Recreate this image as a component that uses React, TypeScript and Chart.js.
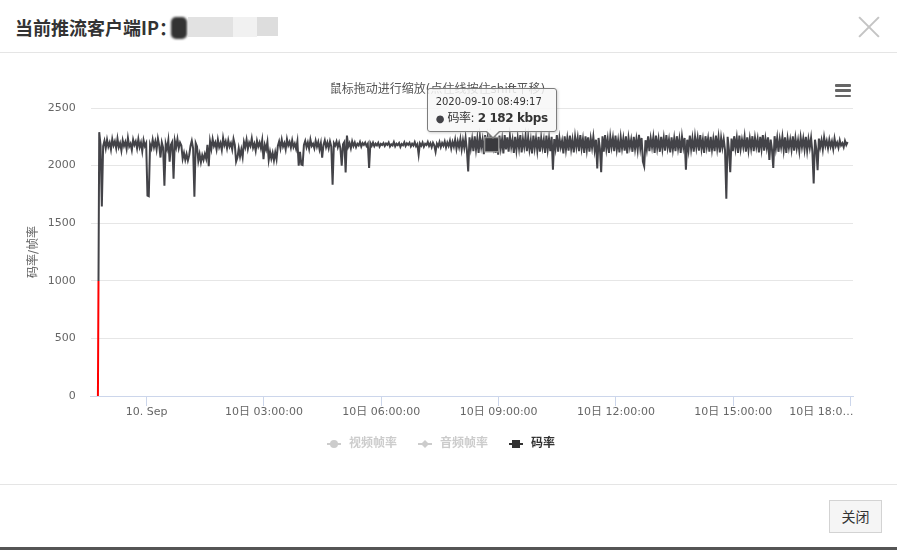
import React, { useEffect, useRef } from "react";
import { Chart, registerables } from "chart.js";

Chart.register(...registerables);

// ---------------- data ----------------
const SERIES_NAMES = ["视频帧率", "音频帧率", "码率"];
const VIDEO_FPS: number[] = []; // hidden series (no visible data)
const AUDIO_FPS: number[] = []; // hidden series (no visible data)

// first sample: 2020-09-09 22:45:17, in seconds relative to 2020-09-10 00:00:00
const START_SECONDS = -4483;
const SAMPLE_INTERVAL_S = 120;

// bitrate (kbps), one sample every 2 minutes
const BITRATE = [
  0, 2290, 2180, 1645, 2170, 2215, 2150, 2225, 2165, 2200, 2140, 2230, 2175, 2210, 2150, 2235, 2160, 2195, 2130, 2220,
  2170, 2205, 2145, 2240, 2165, 2190, 2135, 2225, 2180, 2210, 2150, 2230, 2160, 2200, 2125, 2220, 2170, 2195, 1740, 1735,
  2185, 2150, 2225, 2160, 2210, 2140, 2235, 2175, 2070, 2200, 2155, 1826, 2190, 2145, 2220, 2035, 2180, 2205, 1886, 2215,
  2160, 2230, 2150, 2200, 2175, 2060, 2110, 2050, 2100, 2045, 2090, 2170, 2215, 2150, 1730, 2195, 2165, 2040, 2100, 2030,
  2090, 2050, 2100, 2060, 2180, 1995, 2210, 2145, 2230, 2170, 2200, 2140, 2225, 2160, 2195, 2135, 2240, 2175, 2210, 2150,
  2220, 2165, 2195, 2140, 2230, 2180, 2035, 2070, 2150, 2080, 2140, 2075, 2205, 2160, 2225, 2145, 2200, 2170, 2235, 2155,
  2190, 2130, 2215, 2165, 2200, 2150, 2220, 2055, 2180, 2140, 2205, 2050, 2120, 2060, 2110, 2045, 2115, 2055, 2170, 2210,
  2150, 2225, 2165, 2195, 2140, 2230, 2175, 2205, 2155, 2220, 2160, 2190, 2145, 2210, 2000, 2120, 2010, 2005, 2180, 2215,
  2160, 2200, 2145, 2225, 2170, 2190, 2150, 2215, 2165, 2205, 2140, 2195, 2070, 2180, 2220, 2160, 2200, 2150, 2210, 2165,
  1835, 2195, 2175, 2210, 2160, 2200, 2150, 2000, 2185, 2205, 1940, 2260, 2165, 2195, 2150, 2210, 2170, 2200, 2160, 2190,
  2175, 2205, 2165, 2195, 2180, 2200, 2170, 2190, 1980, 2195, 2172, 2200, 2168, 2190, 2175, 2198, 2165, 2188, 2178, 2195,
  2170, 2192, 2180, 2200, 2165, 2185, 2175, 2205, 2168, 2190, 2178, 2196, 2162, 2188, 2176, 2202, 2170, 2193, 2180, 2198,
  2166, 2190, 2174, 2204, 2168, 2186, 2095, 2192, 2172, 2200, 2164, 2189, 2178, 2206, 2170, 2194, 2160, 2198, 2175, 2120,
  2190, 2168, 2205, 2160, 2196, 2172, 2210, 2158, 2200, 2170, 2215, 2150, 2205, 2165, 2225, 2145, 2210, 2160, 2230, 2140,
  2220, 2155, 2240, 2135, 1950, 2245, 2150, 2230, 2125, 2255, 2140, 2235, 2110, 2250, 2160, 2225, 2100, 2265, 2135, 2240,
  2120, 2255, 2182, 2145, 2270, 2110, 2240, 2095, 2260, 2150, 2230, 2105, 2265, 2140, 2245, 2120, 2255, 2160, 2225, 2110,
  2250, 2135, 2240, 2150, 2265, 2115, 2230, 2160, 2255, 2125, 2245, 2140, 2220, 2105, 2260, 2150, 2235, 2130, 2250, 2120,
  2240, 2155, 2225, 2110, 2260, 2140, 2235, 2125, 2250, 1965, 2230, 2150, 2265, 2120, 2240, 2160, 2215, 2105, 2255, 2140,
  2235, 2130, 2260, 2145, 2225, 2115, 2250, 2160, 2240, 2125, 2265, 2150, 2230, 2110, 2255, 2140, 2245, 2120, 2235, 2155,
  2250, 2135, 2225, 1975, 2240, 2150, 1942, 2255, 2120, 2265, 2145, 2230, 2110, 2250, 2160, 2240, 2125, 2260, 2140, 2220,
  2115, 2245, 2150, 2235, 2130, 2255, 2105, 2240, 2160, 2225, 2120, 2250, 2145, 2230, 2135, 2266, 2150, 2240, 2035, 1995,
  2220, 2140, 2255, 2125, 2235, 2160, 2245, 2110, 2260, 2150, 2230, 2120, 2250, 2145, 2240, 2130, 2265, 2155, 2225, 2115,
  2245, 2140, 2235, 2125, 2255, 2150, 2230, 2110, 2250, 2160, 2240, 1965, 2225, 2135, 2260, 2145, 2235, 2120, 2250, 2155,
  2240, 2130, 2265, 2145, 2225, 2110, 2255, 2160, 2235, 2120, 2250, 2140, 2230, 2125, 2260, 2150, 2245, 2115, 2240, 2155,
  2230, 2135, 1713, 2250, 2140, 1942, 2235, 2125, 2255, 2150, 2240, 2110, 2260, 2145, 2225, 2160, 2250, 2120, 2245, 2135,
  2235, 2150, 2255, 2125, 2240, 2160, 2230, 2115, 2250, 2145, 2265, 2130, 2235, 2155, 2245, 2050, 2225, 2140, 1980, 2255,
  2150, 2240, 2120, 2230, 2160, 2250, 2135, 2245, 2110, 2235, 2155, 2225, 2140, 2255, 2130, 2240, 2150, 2220, 2125, 2245,
  2160, 2235, 2140, 2250, 2130, 2230, 2155, 2240, 2120, 1844, 2225, 2145, 1960, 2235, 2160, 2220, 2140, 2245, 2170, 2215,
  2150, 2225, 2165, 2210, 2145, 2235, 2170, 2200, 2155, 2220, 2175, 2195, 2160, 2215, 2180, 2205,
];

const ZONE_THRESHOLD = 1000; // values below drawn red
const Y_MIN = 0;
const Y_MAX = 2500;
const Y_STEP = 500;

// x axis in hours relative to 2020-09-10 00:00:00
const X_MIN_HOUR = -1.43;
const X_MAX_HOUR = 18.06;
const X_TICK_HOURS = [0, 3, 6, 9, 12, 15, 18];
const X_TICK_LABELS = [
  "10. Sep",
  "10日 03:00:00",
  "10日 06:00:00",
  "10日 09:00:00",
  "10日 12:00:00",
  "10日 15:00:00",
  "10日 18:0…",
];

const TOOLTIP_INDEX = 302; // 2020-09-10 08:49:17
const TITLE = "鼠标拖动进行缩放(点住线按住shift平移)";
const Y_TITLE = "码率/帧率";
const UNIT = "kbps";

// ---------------- styling ----------------
const FONT = '"DejaVu Sans", "Noto Sans CJK SC", sans-serif';
const DARK = "#434348";

function fmtTime(sec: number): string {
  const day = sec < 0 ? "2020-09-09" : "2020-09-10";
  const s = ((sec % 86400) + 86400) % 86400;
  const p = (n: number) => String(n).padStart(2, "0");
  return `${day} ${p(Math.floor(s / 3600))}:${p(Math.floor((s % 3600) / 60))}:${p(s % 60)}`;
}
function fmtNum(v: number): string {
  return String(Math.round(v)).replace(/\B(?=(\d{3})+(?!\d))/g, " ");
}

function legendIcon(kind: "circle" | "diamond" | "square", color: string) {
  const c = document.createElement("canvas");
  c.width = 23;
  c.height = 12;
  const g = c.getContext("2d")!;
  g.strokeStyle = color;
  g.fillStyle = color;
  g.lineWidth = 2;
  g.beginPath();
  g.moveTo(7, 6);
  g.lineTo(21, 6);
  g.stroke();
  g.beginPath();
  if (kind === "circle") {
    g.arc(14, 6, 4, 0, Math.PI * 2);
  } else if (kind === "diamond") {
    g.moveTo(14, 2);
    g.lineTo(18, 6);
    g.lineTo(14, 10);
    g.lineTo(10, 6);
    g.closePath();
  } else {
    g.rect(10, 2, 8, 8);
  }
  g.fill();
  return c;
}

export default function App() {
  const canvasRef = useRef<HTMLCanvasElement>(null);
  const tipRef = useRef<HTMLDivElement>(null);

  useEffect(() => {
    const canvas = canvasRef.current!;
    const icons = [
      legendIcon("circle", "#cccccc"),
      legendIcon("diamond", "#cccccc"),
      legendIcon("square", "#333333"),
    ];

    const bitratePoints = BITRATE.map((v, i) => ({
      x: (START_SECONDS + i * SAMPLE_INTERVAL_S) / 3600,
      y: v,
    }));

    const zoneColor = (ctx: any) => {
      const chart = ctx.chart;
      const area = chart.chartArea;
      const ys = chart.scales && chart.scales.y;
      if (!area || !ys) return DARK;
      const y0 = ys.getPixelForValue(Y_MIN);
      const yT = ys.getPixelForValue(ZONE_THRESHOLD);
      const y1 = ys.getPixelForValue(Y_MAX);
      const grad = chart.ctx.createLinearGradient(0, y0, 0, y1);
      const stop = (y0 - yT) / (y0 - y1);
      grad.addColorStop(0, "#ff0000");
      grad.addColorStop(stop, "#ff0000");
      grad.addColorStop(stop, DARK);
      grad.addColorStop(1, DARK);
      return grad;
    };

    const external = ({ chart, tooltip }: any) => {
      const el = tipRef.current;
      if (!el) return;
      if (!tooltip || tooltip.opacity === 0 || !tooltip.dataPoints || !tooltip.dataPoints.length) {
        el.style.display = "none";
        return;
      }
      const dp = tooltip.dataPoints[0];
      const sec = Math.round(dp.parsed.x * 3600);
      const name = dp.dataset.label;
      el.querySelector(".t1")!.textContent = fmtTime(sec);
      el.querySelector(".t2")!.innerHTML =
        `<span style="color:${DARK};font-size:10px">●</span> ${name}: <b>${fmtNum(dp.parsed.y)} ${UNIT}</b>`;
      const top = chart.canvas.offsetTop + canvas.parentElement!.offsetTop;
      const left = chart.canvas.offsetLeft;
      el.style.display = "block";
      el.style.left = left + tooltip.caretX - 65 + "px";
      el.style.top = top + tooltip.caretY - 57 + "px";
    };

    const chart = new Chart(canvas, {
      type: "line",
      data: {
        datasets: [
          { label: SERIES_NAMES[0], data: VIDEO_FPS, hidden: true, borderColor: "#7cb5ec" },
          { label: SERIES_NAMES[1], data: AUDIO_FPS, hidden: true, borderColor: "#90ed7d" },
          {
            label: SERIES_NAMES[2],
            data: bitratePoints,
            borderColor: zoneColor,
            borderWidth: 2,
            tension: 0,
            fill: false,
            pointRadius: 0,
            pointStyle: "rect",
            pointHoverRadius: 10,
            pointHoverBackgroundColor: "#3a3a3e",
            pointHoverBorderColor: "rgba(150,150,150,0.9)",
            pointHoverBorderWidth: 1.5,
          } as any,
        ],
      },
      options: {
        animation: false,
        responsive: true,
        maintainAspectRatio: false,
        events: [],
        layout: { padding: { left: 22, right: 44, top: 0, bottom: 0 } },
        plugins: {
          title: {
            display: true,
            text: TITLE,
            color: "#555",
            font: { size: 12, weight: "normal", family: FONT },
            padding: { top: 30, bottom: 10.6 },
          },
          legend: {
            display: true,
            position: "bottom",
            labels: {
              usePointStyle: true,
              pointStyleWidth: 23,
              boxHeight: 12,
              padding: 14,
              font: { size: 12, weight: "bold", family: FONT },
              generateLabels: (ch: any) =>
                ch.data.datasets.map((ds: any, i: number) => ({
                  text: ds.label,
                  fillStyle: "rgba(0,0,0,0)",
                  strokeStyle: "rgba(0,0,0,0)",
                  lineWidth: 0,
                  hidden: false,
                  datasetIndex: i,
                  pointStyle: icons[i],
                  fontColor: ch.isDatasetVisible(i) ? "#333333" : "#cccccc",
                })),
            },
          },
          tooltip: { enabled: false, external } as any,
        },
        scales: {
          x: {
            type: "linear",
            min: X_MIN_HOUR,
            max: X_MAX_HOUR,
            afterBuildTicks: (scale: any) => {
              const ticks: any[] = X_TICK_HOURS.map((v) => ({ value: v }));
              // last label is shown shortened, right-aligned to its tick
              ticks.push({ value: X_TICK_HOURS[X_TICK_HOURS.length - 1] - 0.75, labelOnly: true });
              ticks.sort((a, b) => a.value - b.value);
              scale.ticks = ticks;
            },
            afterFit: (s: any) => {
              s.height = s.height + 4.8;
            },
            ticks: {
              autoSkip: false,
              maxRotation: 0,
              minRotation: 0,
              padding: 0,
              color: "#666",
              font: { size: 11, family: FONT },
              callback: (value: any, index: number, ticks: any[]) => {
                const t = ticks[index];
                if (t && t.labelOnly) return X_TICK_LABELS[X_TICK_LABELS.length - 1];
                const k = X_TICK_HOURS.indexOf(Number(value));
                if (k === X_TICK_HOURS.length - 1) return "";
                return k >= 0 ? X_TICK_LABELS[k] : "";
              },
            },
            grid: {
              display: true,
              drawOnChartArea: false,
              drawTicks: true,
              tickLength: 10,
              tickWidth: 1,
              tickColor: (c: any) => (c.tick && c.tick.labelOnly ? "rgba(0,0,0,0)" : "#ccd6eb"),
            },
            border: { display: true, color: "#ccd6eb", width: 1 },
          } as any,
          y: {
            min: Y_MIN,
            max: Y_MAX,
            ticks: {
              stepSize: Y_STEP,
              padding: 15,
              color: "#666",
              font: { size: 11, family: FONT },
              callback: (v: any) => String(v),
            },
            grid: { color: "#e6e6e6", drawTicks: false },
            border: { display: false },
            title: {
              display: true,
              text: Y_TITLE,
              color: "#666",
              font: { size: 12, family: FONT },
              padding: { top: 5, bottom: 4 },
            },
            afterFit: (s: any) => {
              s.width = 68.7;
            },
          } as any,
        },
      } as any,
    });

    const active = [{ datasetIndex: 2, index: TOOLTIP_INDEX }];
    chart.setActiveElements(active);
    const meta = chart.getDatasetMeta(2);
    const pt: any = meta.data[TOOLTIP_INDEX];
    chart.tooltip!.setActiveElements(active, { x: pt.x, y: pt.y });
    chart.update();

    return () => chart.destroy();
  }, []);

  return (
    <div
      style={{
        position: "fixed",
        left: 0,
        top: 0,
        width: 897,
        height: 550,
        background: "#fff",
        overflow: "hidden",
        fontFamily: FONT,
      }}
    >
      {/* header */}
      <div
        style={{
          position: "absolute",
          left: 15,
          top: 14,
          fontSize: 18,
          fontWeight: "bold",
          color: "#333",
          lineHeight: "26px",
          fontFamily: '"Noto Sans CJK SC", "DejaVu Sans", sans-serif',
          whiteSpace: "nowrap",
        }}
      >
        当前推流客户端IP：
      </div>
      <div style={{ position: "absolute", left: 171, top: 17, width: 16, height: 22, background: "#333", borderRadius: 5, filter: "blur(1px)" }} />
      <div style={{ position: "absolute", left: 188, top: 17, width: 45, height: 20, background: "#e2e2e2" }} />
      <div style={{ position: "absolute", left: 233, top: 17, width: 24, height: 20, background: "#f1f1f1" }} />
      <div style={{ position: "absolute", left: 257, top: 17, width: 21, height: 19, background: "#dddddd" }} />
      {/* close icon */}
      <div style={{ position: "absolute", left: 855, top: 26, width: 28, height: 2, background: "#c4c4c4", transform: "rotate(45deg)" }} />
      <div style={{ position: "absolute", left: 855, top: 26, width: 28, height: 2, background: "#c4c4c4", transform: "rotate(-45deg)" }} />
      <div style={{ position: "absolute", left: 0, top: 52, width: 897, height: 1, background: "#e5e5e5" }} />

      {/* chart */}
      <div style={{ position: "absolute", left: 0, top: 53, width: 897, height: 407 }}>
        <canvas ref={canvasRef} />
      </div>

      {/* context menu icon */}
      <div style={{ position: "absolute", left: 835, top: 84, width: 16, height: 2.6, background: "#666", borderRadius: 1 }} />
      <div style={{ position: "absolute", left: 835, top: 89.3, width: 16, height: 2.6, background: "#666", borderRadius: 1 }} />
      <div style={{ position: "absolute", left: 835, top: 94.5, width: 16, height: 2.6, background: "#666", borderRadius: 1 }} />

      {/* tooltip */}
      <div
        ref={tipRef}
        style={{
          position: "absolute",
          display: "none",
          pointerEvents: "none",
          background: "rgba(247,247,247,0.85)",
          border: "1px solid #7d7d7d",
          borderRadius: 3,
          padding: "6px 8px 3px 8px",
          color: "#333",
          whiteSpace: "nowrap",
          boxShadow: "1px 1px 3px rgba(0,0,0,0.18)",
          fontFamily: FONT,
        }}
      >
        <div className="t1" style={{ fontSize: 10, lineHeight: "14px" }} />
        <div className="t2" style={{ fontSize: 12, lineHeight: "18px", letterSpacing: "-0.4px" }} />
        <div style={{ position: "absolute", left: 57, bottom: -8, width: 0, height: 0, borderLeft: "8px solid transparent", borderRight: "8px solid transparent", borderTop: "8px solid #7d7d7d" }} />
        <div style={{ position: "absolute", left: 58, bottom: -6.5, width: 0, height: 0, borderLeft: "7px solid transparent", borderRight: "7px solid transparent", borderTop: "7px solid rgba(247,247,247,1)" }} />
      </div>

      {/* footer */}
      <div style={{ position: "absolute", left: 0, top: 484, width: 897, height: 1, background: "#e5e5e5" }} />
      <div
        style={{
          position: "absolute",
          left: 829,
          top: 500,
          width: 51,
          height: 31,
          border: "1px solid #d3d3d3",
          background: "#f5f5f5",
          color: "#333",
          fontSize: 14,
          lineHeight: "31px",
          textAlign: "center",
          fontFamily: '"Noto Sans CJK SC", sans-serif',
        }}
      >
        关闭
      </div>
      <div style={{ position: "absolute", left: 0, top: 547, width: 897, height: 3, background: "#555" }} />
    </div>
  );
}
